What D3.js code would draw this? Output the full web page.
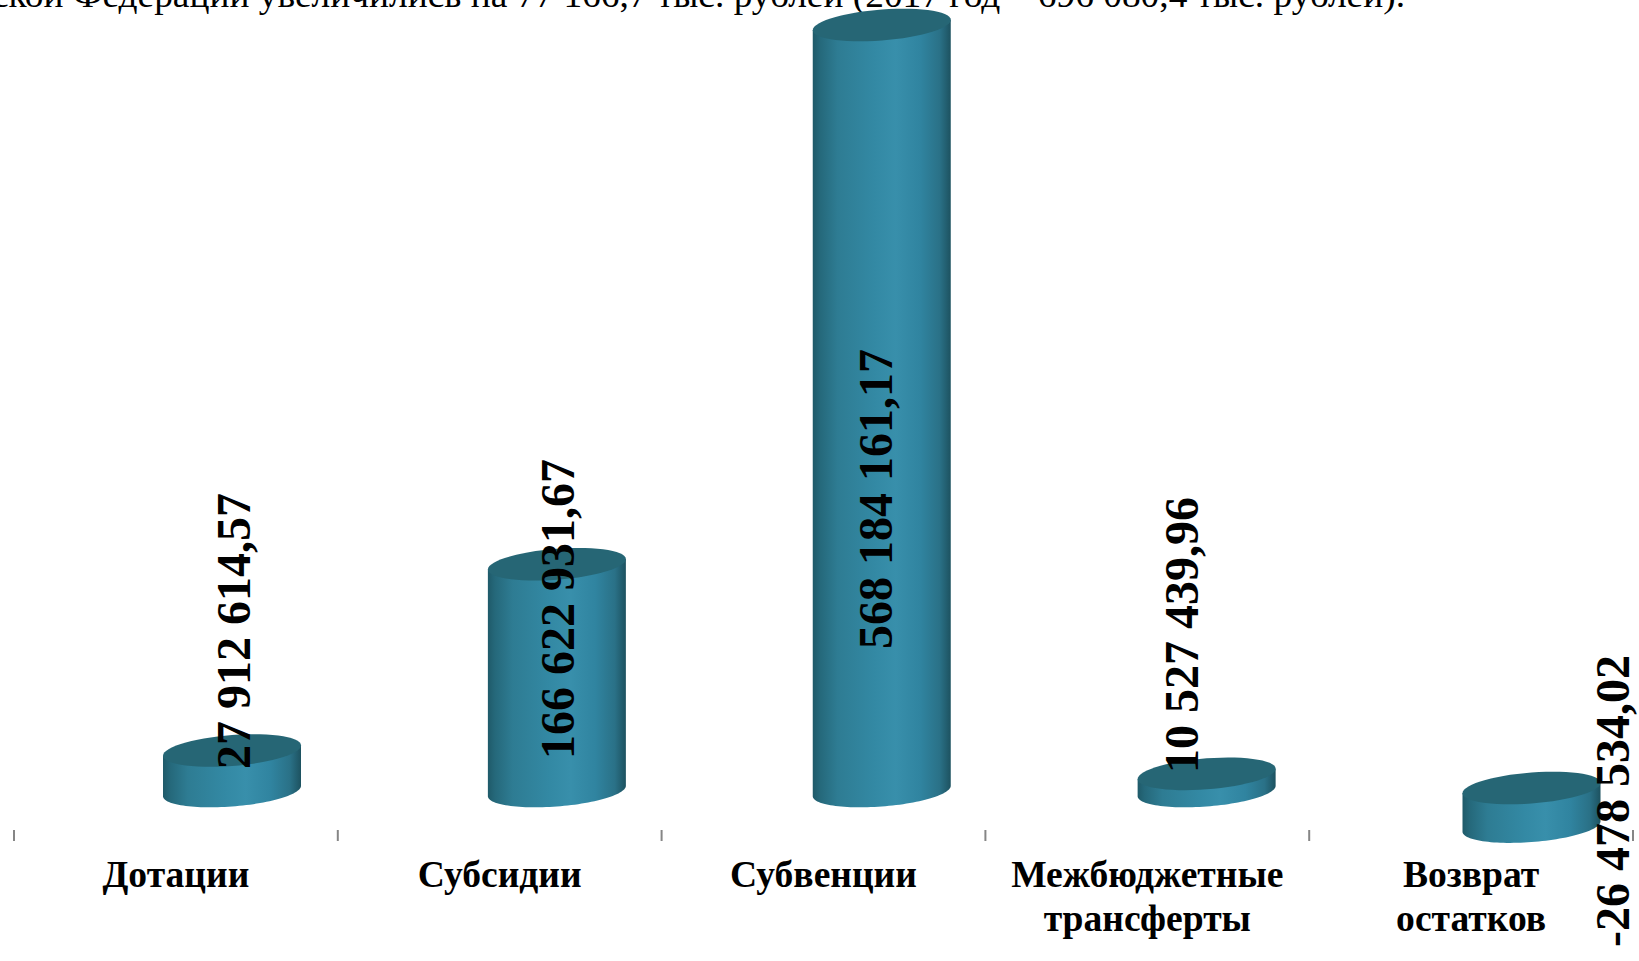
<!DOCTYPE html>
<html><head><meta charset="utf-8">
<script src="https://cdn.jsdelivr.net/npm/d3@7"></script>
<style>html,body{margin:0;padding:0;background:#fff;overflow:hidden}svg{display:block}text{font-family:"Liberation Serif","Times New Roman",serif;fill:#000}</style>
</head><body><svg id="c" width="1639" height="961"></svg>
<script>
const categories=[["Дотации"],["Субсидии"],["Субвенции"],["Межбюджетные","трансферты"],["Возврат","остатков"]];
const values=[27912614.57,166622931.67,568184161.17,10527439.96,-26478534.02];
const valueLabels=["27 912 614,57","166 622 931,67","568 184 161,17","10 527 439,96","-26 478 534,02"];
const headerText="ской Федерации увеличились на 77 166,7 тыс. рублей (2017 год – 696 080,4 тыс. рублей).";
// manual label placement, as in the source
const labelX=[233.5,557.5,875,1181,1612.5];
const labelY=[631,609,499,635,801];

const svg=d3.select("#c");
const x=d3.scaleBand().domain(d3.range(5)).range([14,1633]);
const xBar=d3.scalePoint().domain(d3.range(5)).range([232,1531.5]);
const y=d3.scaleLinear().domain([0,568184161.17]).range([788,25]);
const rx=69,ry=15.5,shear=0.075,depth=3;

const defs=svg.append("defs");
const g=defs.append("linearGradient").attr("id","side");
[[0,"#1f5a69"],[.05,"#25687a"],[.18,"#2e7c93"],[.45,"#3389a4"],[.6,"#388fab"],[.78,"#3084a0"],[.92,"#2a7187"],[1,"#1d5260"]]
 .forEach(([o,c])=>g.append("stop").attr("offset",o).attr("stop-color",c));

svg.append("text").attr("x",-8).attr("y",7).attr("font-size",36)
  .attr("textLength",1413).attr("lengthAdjust","spacingAndGlyphs").text(headerText);

const ell=(cx,cy,a,b)=>d3.line()(d3.range(a,b+1e-6,(b-a)/60).map(t=>[cx+rx*Math.cos(t),cy-shear*rx*Math.cos(t)+ry*Math.sin(t)]));

values.forEach((v,i)=>{
  const cx=xBar(i);
  const top=y(Math.max(v,0)), bot=y(Math.min(v,0))+depth;
  const b=svg.append("g");
  const arc=ell(cx,bot,0,Math.PI);
  b.append("path").attr("fill","url(#side)")
   .attr("d",`M${cx+rx},${top-shear*rx}L${arc.slice(1)}L${cx-rx},${top+shear*rx}Z`);
  b.append("path").attr("fill","#266675").attr("d",ell(cx,top,0,2*Math.PI)+"Z");
});

svg.append("g").selectAll("line").data(d3.range(6)).join("line")
  .attr("x1",i=>14+i*x.step()).attr("x2",i=>14+i*x.step()).attr("y1",830).attr("y2",841)
  .attr("stroke","#868686").attr("stroke-width",2);

categories.forEach((lines,i)=>{
  const t=svg.append("text").attr("text-anchor","middle").attr("font-weight","bold").attr("font-size",37.6);
  lines.forEach((s,j)=>t.append("tspan").attr("x",x(i)+x.bandwidth()/2).attr("y",887+j*44).text(s));
});

valueLabels.forEach((s,i)=>{
  svg.append("text").attr("text-anchor","middle").attr("font-weight","bold").attr("font-size",48)
   .attr("dominant-baseline","central")
   .attr("transform",`translate(${labelX[i]},${labelY[i]}) rotate(-90)`).text(s);
});
</script></body></html>
